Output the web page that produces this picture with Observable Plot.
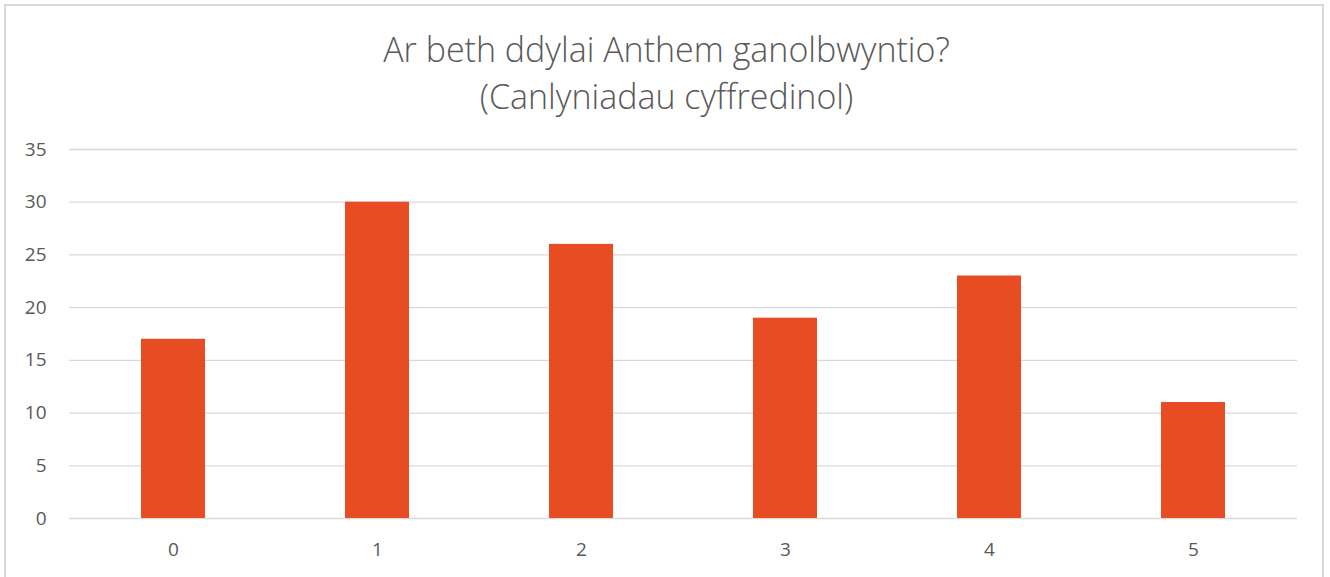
<!DOCTYPE html>
<html>
<head>
<meta charset="utf-8">
<script src="https://cdn.jsdelivr.net/npm/d3@7"></script>
<script src="https://cdn.jsdelivr.net/npm/@observablehq/plot@0.6"></script>
<style>
  html, body { margin: 0; padding: 0; background: #fff; }
  #wrap { position: relative; width: 1330px; height: 577px; overflow: hidden; }
  #frame { position: absolute; left: 4px; top: 4px; width: 1320px; height: 600px; border: 2px solid #d9d9d9; box-sizing: border-box; }
  #title { position: absolute; left: 0; top: 26px; width: 1333px; text-align: center; font-family: "Open Sans", sans-serif; font-weight: 300; font-size: 34px; line-height: 47px; color: #595959; }
  #chart { position: absolute; left: 0; top: 0; }
</style>
</head>
<body>
<div id="wrap">
  <div id="frame"></div>
  <div id="chart"></div>
  <div id="title">Ar beth ddylai Anthem ganolbwyntio?<br>(Canlyniadau cyffredinol)</div>
</div>
<script>
const categories = ["0", "1", "2", "3", "4", "5"];
const values = [17, 30, 26, 19, 23, 11];
const yTicks = [0, 5, 10, 15, 20, 25, 30, 35];

const data = categories.map((c, i) => ({category: c, value: values[i]}));

const chart = Plot.plot({
  width: 1330,
  height: 577,
  marginTop: 149,
  marginBottom: 59,
  marginLeft: 69,
  marginRight: 33,
  style: { fontFamily: "'Open Sans', sans-serif", fontSize: "19px", color: "#595959", background: "transparent" },
  x: { domain: categories, paddingInner: 0.687, paddingOuter: 0.3435, label: null, tickSize: 0 },
  y: { domain: [0, 35], ticks: yTicks, label: null, tickSize: 0 },
  marks: [
    Plot.gridY(yTicks, { stroke: "#d9d9d9", strokeOpacity: 1, strokeWidth: 1.3 }),
    Plot.barY(data, { x: "category", y: "value", fill: "#E84C22" }),
    Plot.axisY(yTicks, { tickSize: 0, tickPadding: 23, fill: "#595959", fontSize: 19, label: null }),
    Plot.axisX({ tickSize: 0, tickPadding: 24, fill: "#595959", fontSize: 19, label: null })
  ]
});
document.getElementById("chart").appendChild(chart);
</script>
</body>
</html>
